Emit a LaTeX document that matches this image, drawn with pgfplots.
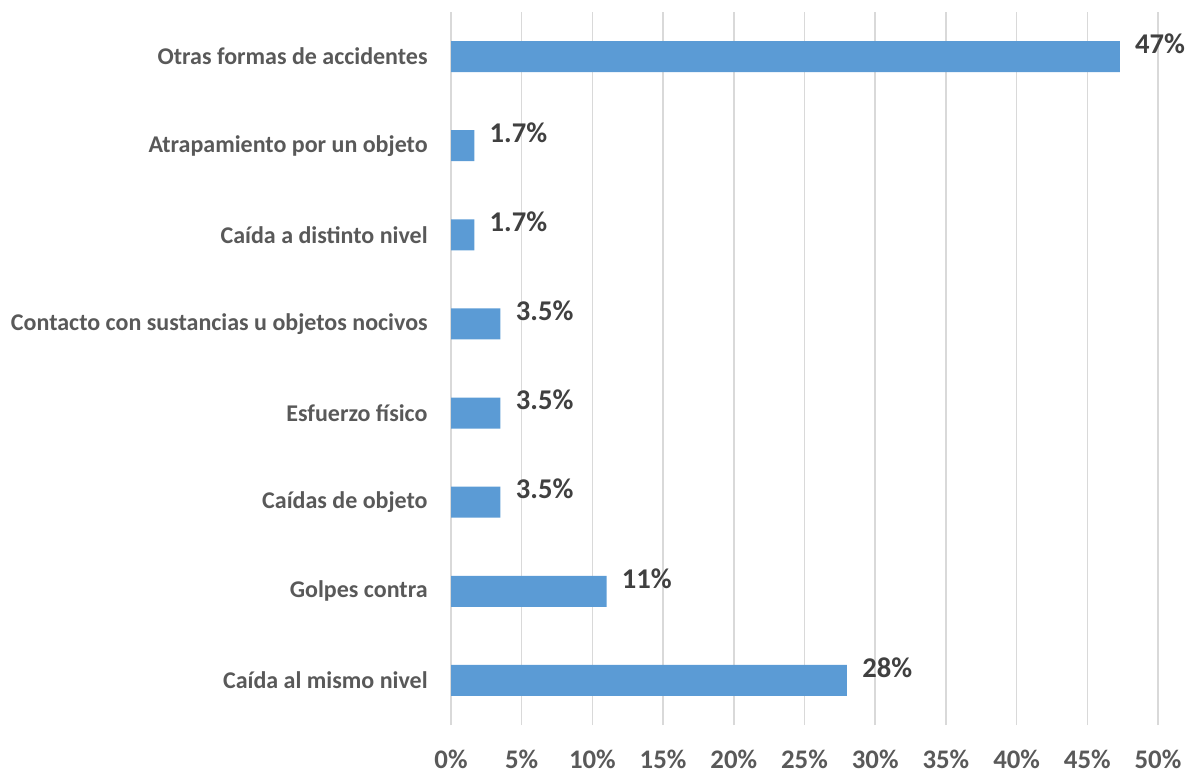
\documentclass[border=0pt]{standalone}
\usepackage{pgfplots}
\pgfplotsset{compat=1.18}
\usepackage{fontspec}
\setmainfont{Carlito}
\usetikzlibrary{calc}
\definecolor{barblue}{HTML}{5B9BD5}
\definecolor{labgray}{HTML}{595959}
\definecolor{valgray}{HTML}{404040}
\definecolor{gridgray}{HTML}{D9D9D9}

\begin{document}
\begin{tikzpicture}
\begin{axis}[
 name=ax,
 scale only axis,
 width=353.5pt,
 height=356.5pt,
 xbar,
 bar width=15.5pt,
 bar shift=0pt,
 xmin=0, xmax=50,
 ymin=-0.5, ymax=7.5,
 xtick={0,5,...,50},
 xticklabels={0\%,5\%,10\%,15\%,20\%,25\%,30\%,35\%,40\%,45\%,50\%},
 ytick={0,...,7},
 yticklabels={Caída al mismo nivel,Golpes contra,Caídas de objeto,Esfuerzo físico,Contacto con sustancias u objetos nocivos,Caída a distinto nivel,Atrapamiento por un objeto,Otras formas de accidentes},
 xmajorgrids,
 grid style={gridgray, line width=0.75pt},
 axis line style={draw=none},
 major tick length=0pt,
 xticklabel style={font=\fontsize{13.4}{15}\selectfont\bfseries, text=labgray, anchor=base, inner sep=0pt, yshift=-21.5pt},
 yticklabel style={font=\fontsize{12}{14}\selectfont\bfseries, text=labgray, anchor=east, inner sep=0pt, xshift=-11.5pt},
 nodes near coords,
 point meta=explicit symbolic,
 every node near coord/.append style={font=\fontsize{14.3}{16}\selectfont\bfseries, text=valgray, anchor=west, inner sep=0pt, xshift=7.5pt, yshift=6.5pt},
 clip=false,
]
\addplot[fill=barblue, draw=none] table[meta=lab] {
x y lab
28 0 28\%
11 1 11\%
3.5 2 3.5\%
3.5 3 3.5\%
3.5 4 3.5\%
1.65 5 1.7\%
1.65 6 1.7\%
47.3 7 47\%
};
\end{axis}
\pgfresetboundingbox
\path[use as bounding box] ($(ax.south west)+(-225.5pt,-24.5pt)$) rectangle ($(ax.north east)+(16pt,6pt)$);
\end{tikzpicture}
\end{document}
